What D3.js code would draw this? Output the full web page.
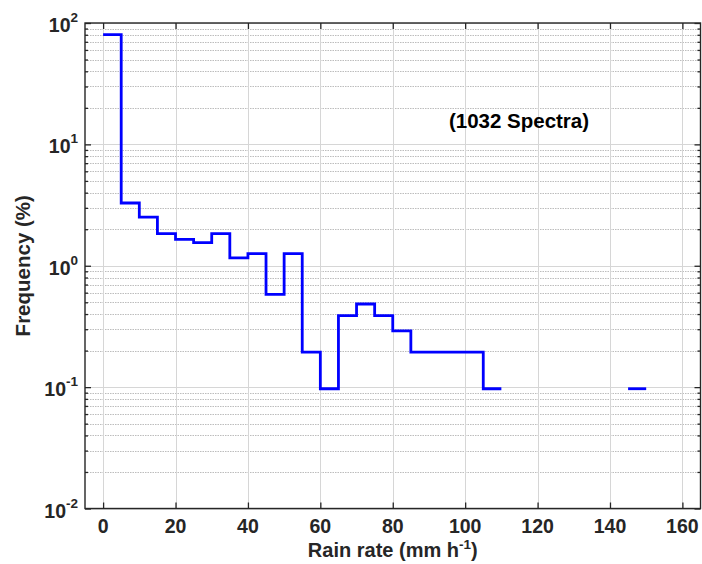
<!DOCTYPE html>
<html>
<head>
<meta charset="utf-8">
<script src="https://cdn.jsdelivr.net/npm/d3@7"></script>
<style>
  html, body { margin: 0; padding: 0; background: #fff; }
  svg text { font-family: "Liberation Sans", Arial, Helvetica, sans-serif; font-weight: bold; }
</style>
</head>
<body>
<svg id="chart" width="702" height="564"></svg>
<script>
// Rain-rate histogram: left edge of each 5 mm/h bin and its frequency (%)
const binStart = [0, 5, 10, 15, 20, 25, 30, 35, 40, 45, 50, 55, 60, 65, 70, 75, 80, 85, 90, 95, 100, 105, 145];
const frequency = [80.2, 3.29, 2.52, 1.84, 1.65, 1.55, 1.84, 1.16, 1.26, 0.58, 1.26, 0.194, 0.097, 0.388, 0.484, 0.388, 0.291, 0.194, 0.194, 0.194, 0.194, 0.097, 0.097];
const binWidth = 5;
const xTicks = [0, 20, 40, 60, 80, 100, 120, 140, 160];
const yTickExp = [-2, -1, 0, 1, 2];
const annotation = "(1032 Spectra)";

const svg = d3.select("#chart");
const margin = { left: 85, right: 1.5, top: 23, bottom: 55 };
const W = 702, H = 564;
const x0 = margin.left, x1 = W - margin.right, y0 = margin.top, y1 = H - margin.bottom - 0.5;

const x = d3.scaleLinear().domain([-5, 165]).range([x0, x1]);
const y = d3.scaleLog().domain([0.01, 100]).range([y1, y0]);

const axisColor = "#262626";

// minor + major horizontal grid
const minorVals = [];
for (let e = -2; e < 2; e++) for (let m = 2; m <= 9; m++) minorVals.push(m * Math.pow(10, e));
const majorVals = yTickExp.map(e => Math.pow(10, e));

const grid = svg.append("g");
grid.selectAll("line.minor").data(minorVals).join("line")
  .attr("x1", x0).attr("x2", x1)
  .attr("y1", d => Math.round(y(d)) + 0.5).attr("y2", d => Math.round(y(d)) + 0.5)
  .attr("stroke", "#bdbdbd").attr("stroke-width", 1).attr("stroke-dasharray", "1.5,1");
grid.selectAll("line.major").data(majorVals).join("line")
  .attr("x1", x0).attr("x2", x1)
  .attr("y1", d => Math.round(y(d)) + 0.5).attr("y2", d => Math.round(y(d)) + 0.5)
  .attr("stroke", "#d6d6d6").attr("stroke-width", 1);
grid.selectAll("line.vx").data(xTicks).join("line")
  .attr("x1", d => Math.round(x(d)) + 0.5).attr("x2", d => Math.round(x(d)) + 0.5)
  .attr("y1", y0).attr("y2", y1)
  .attr("stroke", "#d6d6d6").attr("stroke-width", 1);

// step line, broken where bins are empty
const runs = [];
binStart.forEach((b, i) => {
  const pt = [b, frequency[i]];
  const last = runs[runs.length - 1];
  if (last && last.next === b) { last.pts.push(pt); last.next = b + binWidth; }
  else runs.push({ pts: [pt], next: b + binWidth });
});
runs.forEach(r => { const lp = r.pts[r.pts.length - 1]; r.pts.push([lp[0] + binWidth, lp[1]]); });

const line = d3.line().x(d => x(d[0])).y(d => y(d[1])).curve(d3.curveStepAfter);
svg.append("g").selectAll("path").data(runs).join("path")
  .attr("d", r => line(r.pts))
  .attr("fill", "none").attr("stroke", "#0000ff").attr("stroke-width", 2.8)
  .attr("stroke-linejoin", "miter").attr("stroke-linecap", "butt");

// axes with inward ticks on all four sides
const tickLen = 6, minorLen = 3;
const fmt = () => "";
svg.append("g").attr("transform", `translate(0,${y1})`)
  .call(d3.axisBottom(x).tickValues(xTicks).tickSizeInner(-tickLen).tickSizeOuter(0).tickFormat(fmt));
svg.append("g").attr("transform", `translate(0,${y0})`)
  .call(d3.axisTop(x).tickValues(xTicks).tickSizeInner(-tickLen).tickSizeOuter(0).tickFormat(fmt));
svg.append("g").attr("transform", `translate(${x0},0)`)
  .call(d3.axisLeft(y).tickValues(majorVals).tickSizeInner(-tickLen).tickSizeOuter(0).tickFormat(fmt));
svg.append("g").attr("transform", `translate(${x0},0)`)
  .call(d3.axisLeft(y).tickValues(minorVals).tickSizeInner(-minorLen).tickSizeOuter(0).tickFormat(fmt));
svg.append("g").attr("transform", `translate(${x1},0)`)
  .call(d3.axisRight(y).tickValues(majorVals).tickSizeInner(-tickLen).tickSizeOuter(0).tickFormat(fmt));
svg.append("g").attr("transform", `translate(${x1},0)`)
  .call(d3.axisRight(y).tickValues(minorVals).tickSizeInner(-minorLen).tickSizeOuter(0).tickFormat(fmt));
svg.selectAll(".domain").remove();
svg.selectAll(".tick line").attr("stroke", axisColor).attr("stroke-width", 1.3);

// frame
svg.append("rect").attr("x", x0).attr("y", y0).attr("width", x1 - x0).attr("height", y1 - y0)
  .attr("fill", "none").attr("stroke", axisColor).attr("stroke-width", 1.4);

// tick labels
svg.append("g").selectAll("text").data(xTicks).join("text")
  .attr("x", d => x(d)).attr("y", y1 + 24.5)
  .attr("text-anchor", "middle").attr("font-size", 19.5).attr("fill", axisColor)
  .text(d => d);

const yl = svg.append("g").selectAll("text").data(yTickExp).join("text")
  .attr("x", x0 - 7).attr("y", d => y(Math.pow(10, d)) + 9)
  .attr("text-anchor", "end").attr("font-size", 19.5).attr("fill", axisColor);
yl.append("tspan").text("10");
yl.append("tspan").attr("dy", -10).attr("font-size", 13.5).text(d => d);

// axis titles
svg.append("text").attr("x", (x0 + x1) / 2).attr("y", 557)
  .attr("text-anchor", "middle").attr("font-size", 20).attr("fill", axisColor)
  .call(t => {
    t.append("tspan").text("Rain rate (mm h");
    t.append("tspan").attr("dy", -8).attr("font-size", 13.5).text("-1");
    t.append("tspan").attr("dy", 8).text(")");
  });
svg.append("text").attr("transform", `translate(30,${(y0 + y1) / 2}) rotate(-90)`)
  .attr("text-anchor", "middle").attr("font-size", 20.5).attr("fill", axisColor)
  .text("Frequency (%)");

// annotation inside the plot
svg.append("text").attr("x", 519).attr("y", 128)
  .attr("text-anchor", "middle").attr("font-size", 20.5).attr("fill", "#000")
  .text(annotation);
</script>
</body>
</html>
